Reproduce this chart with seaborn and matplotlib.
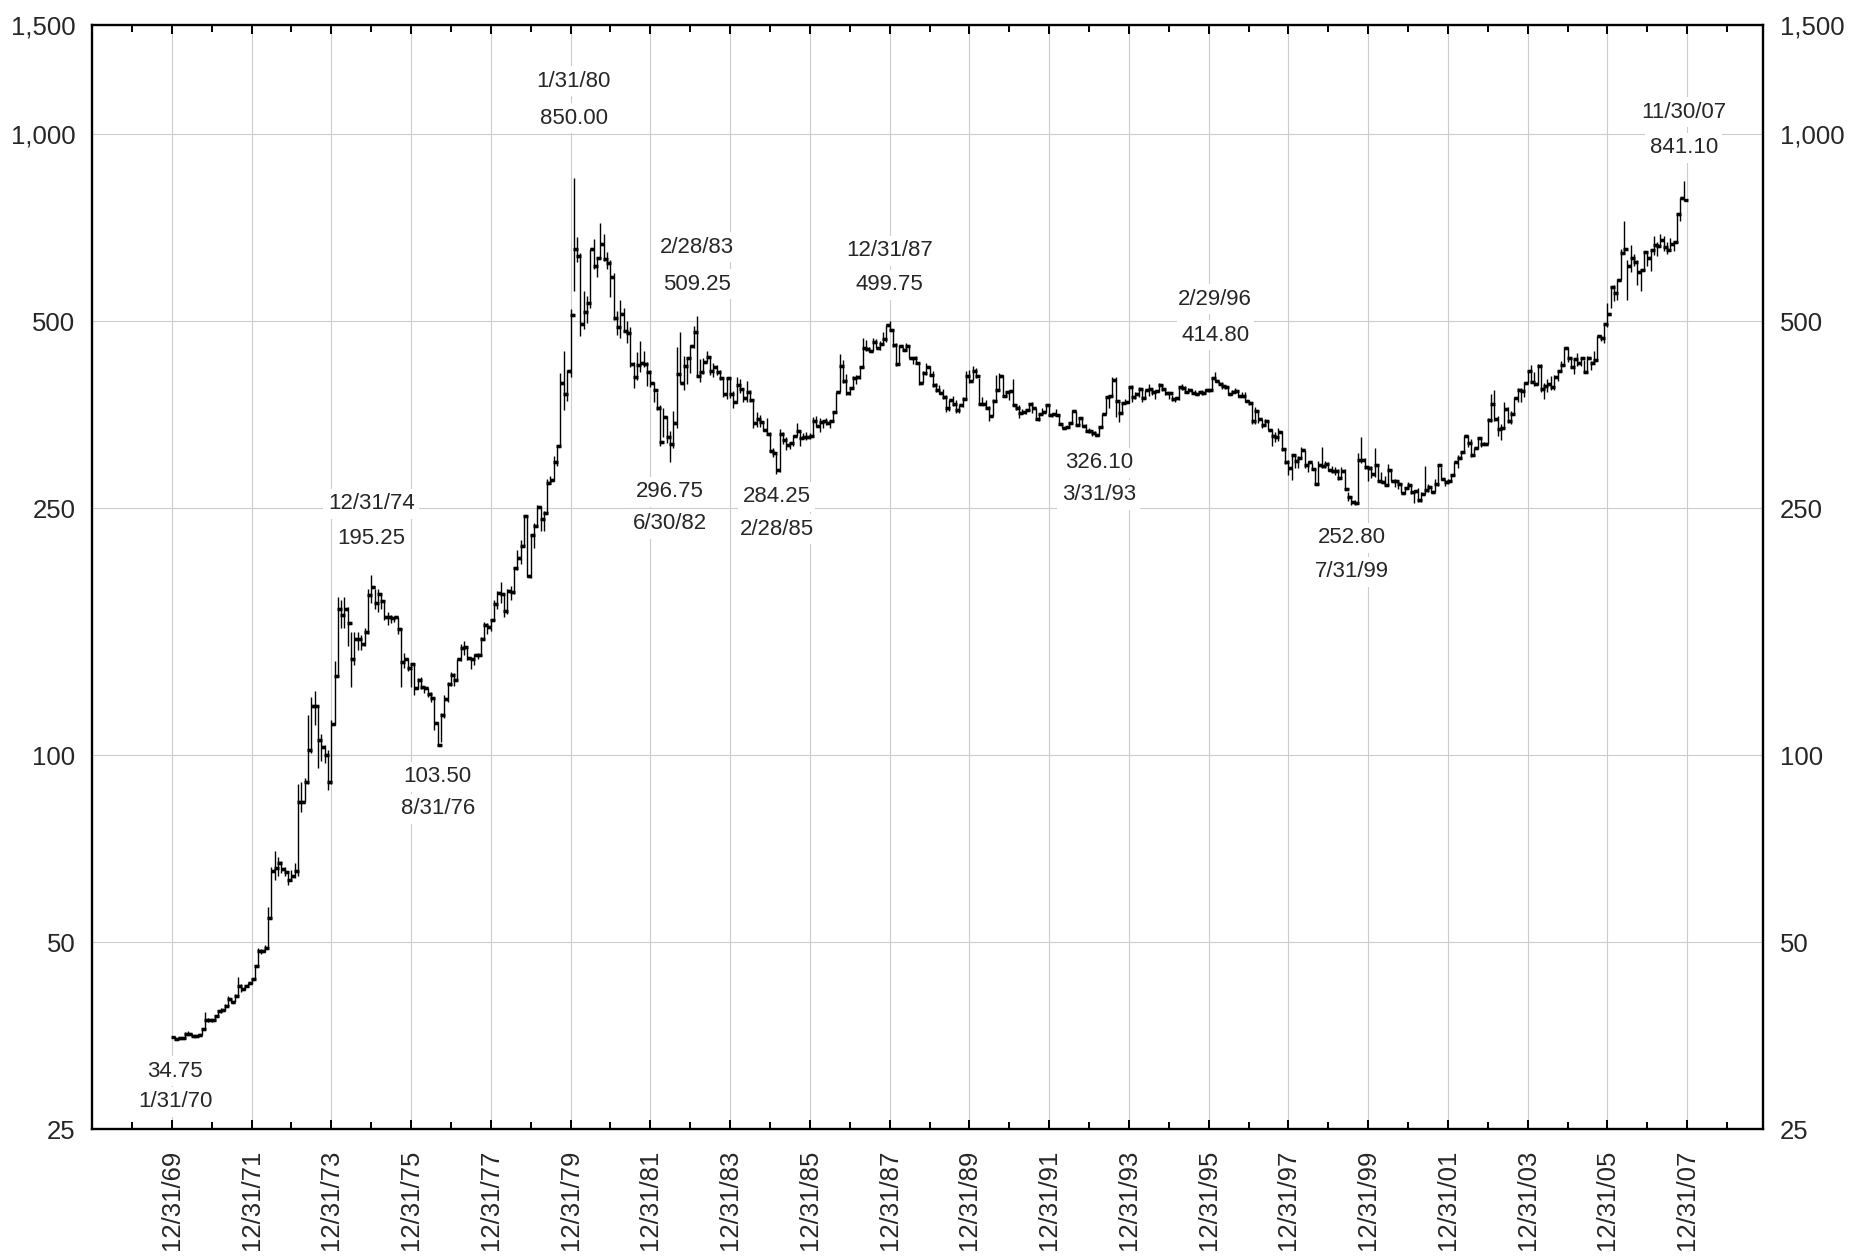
import numpy as np
import pandas as pd
import matplotlib
matplotlib.use("Agg")
import matplotlib.pyplot as plt
import matplotlib.dates as mdates
from matplotlib.ticker import FixedLocator, FuncFormatter, NullLocator
import seaborn as sns

# Monthly gold bars, Jan 1970 - Nov 2007
first_open = 35.20

closes = [
    34.94, 35.00, 35.10, 35.60, 35.50, 35.30, 35.30, 35.40, 36.20, 37.50, 37.40, 37.40,  # 1970
    38.00, 38.80, 38.90, 39.50, 40.50, 40.10, 41.00, 42.50, 42.00, 42.50, 42.90, 43.60,  # 1971
    45.75, 48.30, 48.30, 49.00, 54.60, 65.10, 65.70, 67.00, 65.50, 64.90, 62.90, 63.90,  # 1972
    65.10, 84.00, 84.00, 90.50, 102.0, 120.0, 120.0, 106.0, 103.0, 100.0, 90.50, 112.25,  # 1973
    134.0, 172.0, 168.0, 172.0, 163.0, 143.0, 154.0, 154.0, 151.0, 158.0, 181.0, 186.5,  # 1974
    175.8, 181.75, 177.25, 167.0, 167.0, 166.25, 166.7, 159.8, 141.3, 142.9, 138.15, 140.25,  # 1975
    128.15, 132.3, 128.75, 128.4, 125.5, 123.8, 112.5, 104.0, 116.0, 123.15, 130.25, 134.5,  # 1976
    132.3, 142.75, 148.9, 149.2, 143.5, 143.0, 145.25, 145.0, 154.05, 161.85, 160.95, 164.95,  # 1977
    175.3, 182.25, 181.6, 170.85, 184.15, 183.05, 200.25, 208.1, 217.1, 242.6, 194.2, 226.0,  # 1978
    233.7, 251.3, 240.1, 245.3, 274.6, 277.5, 296.45, 315.1, 397.25, 382.0, 415.65, 512.0,  # 1979
    653.0, 637.0, 494.5, 518.0, 535.5, 653.5, 614.25, 631.25, 666.75, 629.0, 619.75, 589.75,  # 1980
    506.5, 489.0, 513.75, 482.75, 479.25, 426.0, 406.0, 425.5, 428.75, 427.0, 414.5, 397.5,  # 1981
    387.0, 362.6, 320.0, 350.25, 325.5, 317.5, 342.75, 411.5, 397.0, 423.25, 436.0, 456.9,  # 1982
    481.0, 408.5, 414.75, 429.25, 437.5, 416.0, 422.0, 414.25, 405.0, 382.0, 405.0, 381.5,  # 1983
    370.5, 394.25, 388.5, 375.8, 384.25, 373.15, 342.4, 348.25, 343.75, 333.5, 329.0, 309.0,  # 1984
    306.65, 287.75, 329.25, 321.4, 316.4, 317.75, 327.0, 333.25, 324.0, 325.1, 325.3, 326.8,  # 1985
    345.5, 339.3, 344.0, 345.75, 343.2, 345.5, 357.5, 384.7, 423.2, 401.0, 383.5, 390.9,  # 1986
    405.5, 405.9, 421.5, 453.3, 451.0, 447.3, 462.5, 453.4, 459.5, 468.8, 492.5, 484.1,  # 1987
    458.0, 426.15, 456.95, 449.0, 455.5, 436.55, 436.8, 427.75, 397.7, 412.4, 422.6, 410.15,  # 1988
    394.0, 387.0, 383.2, 377.6, 361.8, 373.0, 368.3, 359.8, 366.5, 375.3, 408.15, 401.0,  # 1989
    415.05, 407.7, 368.5, 367.75, 363.05, 352.2, 372.3, 387.75, 408.35, 379.5, 384.85, 386.2,  # 1990
    366.0, 362.7, 355.65, 357.75, 360.4, 368.4, 362.95, 347.4, 354.9, 357.45, 366.3, 353.15,  # 1991
    354.1, 353.15, 341.7, 336.4, 337.5, 343.4, 357.8, 340.0, 349.0, 339.25, 333.25, 333.0,  # 1992
    330.45, 327.6, 337.8, 354.3, 377.45, 378.5, 401.8, 371.6, 355.5, 369.6, 370.9, 391.75,  # 1993
    377.9, 381.6, 389.2, 376.45, 387.6, 388.25, 384.0, 385.75, 394.85, 389.1, 383.1, 383.25,  # 1994
    374.9, 376.4, 392.0, 389.75, 385.3, 387.05, 383.35, 382.35, 383.95, 382.65, 387.8, 387.0,  # 1995
    405.55, 400.65, 396.35, 392.85, 391.25, 382.0, 385.3, 386.45, 379.0, 379.5, 371.3, 369.25,  # 1996
    345.5, 358.6, 348.2, 340.15, 345.6, 334.6, 326.4, 325.4, 332.1, 311.4, 296.8, 290.2,  # 1997
    304.85, 297.4, 301.0, 310.7, 293.6, 296.3, 288.9, 273.4, 293.85, 292.3, 294.7, 287.8,  # 1998
    287.1, 287.05, 279.45, 286.6, 268.6, 261.0, 255.6, 254.8, 299.0, 299.1, 291.35, 290.25,  # 1999
    283.3, 293.65, 276.75, 275.1, 272.25, 288.15, 276.75, 277.0, 273.65, 264.5, 269.1, 272.65,  # 2000
    265.6, 266.7, 257.7, 263.15, 267.5, 270.6, 265.9, 273.0, 293.1, 278.75, 275.5, 276.5,  # 2001
    282.3, 296.85, 301.4, 308.2, 326.6, 318.5, 304.65, 312.8, 323.7, 316.9, 317.05, 347.2,  # 2002
    367.5, 347.45, 334.85, 336.75, 361.4, 346.0, 354.75, 375.6, 388.0, 386.25, 398.35, 416.25,  # 2003
    399.75, 395.85, 423.7, 388.5, 393.25, 395.8, 391.4, 407.25, 415.65, 425.55, 453.4, 435.6,  # 2004
    422.15, 435.45, 427.5, 435.7, 414.45, 437.1, 429.0, 433.25, 473.25, 470.75, 495.65, 513.0,  # 2005
    568.75, 556.0, 582.0, 644.0, 653.0, 613.5, 632.5, 623.5, 599.25, 603.75, 646.7, 632.0,  # 2006
    650.5, 664.2, 661.75, 677.0, 659.1, 650.5, 665.5, 672.0, 743.0, 789.5, 783.5,  # 2007
]

highs = [
    35.30, 35.10, 35.20, 35.80, 35.90, 35.60, 35.40, 35.50, 36.40, 38.60, 37.70, 37.60,  # 1970
    38.20, 38.90, 39.10, 39.70, 41.00, 40.70, 41.20, 43.90, 42.80, 42.70, 43.00, 43.70,  # 1971
    46.00, 49.00, 48.70, 49.50, 57.00, 66.00, 70.00, 68.50, 67.50, 66.00, 65.00, 65.30,  # 1972
    67.0, 90.0, 90.5, 92.0, 116.0, 124.0, 127.0, 120.0, 108.0, 104.0, 102.0, 114.0,  # 1973
    142.0, 180.0, 178.0, 179.5, 173.0, 158.0, 158.0, 158.0, 156.0, 160.0, 185.0, 195.25,  # 1974
    185.0, 185.0, 181.0, 178.0, 170.0, 168.0, 167.0, 167.0, 160.0, 146.0, 143.5, 141.0,  # 1975
    140.5, 133.0, 133.5, 129.0, 128.5, 126.3, 124.3, 113.0, 117.0, 125.0, 131.0, 136.0,  # 1976
    135.75, 143.0, 151.0, 153.0, 149.5, 143.5, 145.5, 146.0, 155.0, 164.0, 163.0, 165.5,  # 1977
    178.0, 184.0, 190.0, 181.0, 185.0, 187.0, 201.0, 214.0, 222.0, 243.65, 243.0, 227.0,  # 1978
    237.0, 253.0, 252.0, 247.0, 279.0, 282.0, 303.0, 315.1, 412.0, 447.0, 417.0, 524.0,  # 1979
    850.0, 683.0, 644.0, 560.0, 550.0, 653.5, 678.0, 635.0, 720.0, 690.0, 646.0, 627.0,  # 1980
    599.0, 520.0, 540.0, 525.0, 500.0, 489.0, 430.0, 446.0, 465.0, 448.0, 430.0, 417.0,  # 1981
    399.0, 385.0, 366.0, 362.0, 352.0, 333.0, 359.0, 455.0, 481.0, 440.0, 438.0, 457.0,  # 1982
    492.0, 509.25, 434.0, 436.0, 447.0, 439.0, 428.0, 425.0, 418.0, 403.0, 407.0, 407.0,  # 1983
    386.0, 406.0, 404.0, 388.0, 400.0, 387.0, 373.0, 357.0, 353.0, 345.0, 349.0, 331.0,  # 1984
    312.0, 306.0, 335.0, 331.0, 325.0, 320.0, 328.0, 343.0, 333.0, 330.0, 331.0, 330.0,  # 1985
    350.0, 352.0, 349.0, 346.0, 349.0, 347.0, 358.0, 385.0, 442.0, 433.0, 411.0, 392.0,  # 1986
    408.0, 409.0, 421.5, 470.0, 466.0, 454.0, 470.0, 468.0, 465.0, 481.0, 494.0, 499.75,  # 1987
    486.0, 461.0, 457.0, 455.0, 461.0, 458.0, 438.0, 439.0, 428.0, 415.0, 429.0, 423.0,  # 1988
    415.0, 397.0, 395.0, 389.0, 381.0, 374.0, 379.0, 373.0, 367.0, 378.0, 416.0, 418.0,  # 1989
    423.0, 420.0, 405.0, 378.0, 373.0, 365.0, 375.0, 410.0, 413.0, 409.0, 385.0, 388.0,  # 1990
    403.0, 368.0, 366.0, 361.0, 361.0, 369.0, 371.0, 363.0, 355.0, 362.0, 367.0, 368.0,  # 1991
    356.0, 361.0, 354.0, 342.0, 338.0, 344.0, 360.0, 358.0, 350.0, 349.0, 341.0, 337.0,  # 1992
    333.0, 333.0, 338.0, 355.0, 377.5, 378.5, 406.7, 406.0, 372.0, 371.0, 375.0, 391.75,  # 1993
    394.0, 385.0, 392.0, 389.0, 388.0, 396.0, 387.0, 388.0, 397.0, 396.0, 389.0, 383.5,  # 1994
    380.0, 377.0, 392.0, 396.0, 393.0, 390.0, 389.0, 387.0, 386.0, 387.0, 389.0, 389.0,  # 1995
    406.0, 414.8, 401.0, 399.0, 394.0, 391.0, 387.0, 390.0, 387.0, 385.0, 384.0, 373.0,  # 1996
    368.0, 364.0, 359.0, 348.0, 348.0, 346.0, 335.0, 332.0, 336.0, 333.0, 313.0, 299.0,  # 1997
    306.0, 305.0, 303.0, 314.0, 310.0, 298.0, 296.0, 288.0, 298.0, 314.0, 298.0, 297.0,  # 1998
    292.0, 291.0, 289.0, 291.0, 289.0, 265.0, 261.0, 258.0, 307.0, 326.0, 301.0, 291.0,  # 1999
    292.0, 313.0, 295.0, 286.0, 282.0, 294.0, 289.0, 279.0, 277.0, 274.0, 270.0, 275.0,  # 2000
    272.0, 267.0, 269.0, 265.0, 292.0, 273.0, 270.0, 279.0, 293.1, 291.0, 278.0, 279.0,  # 2001
    284.0, 297.0, 304.0, 309.0, 327.0, 328.0, 323.0, 313.0, 326.0, 323.0, 320.0, 349.0,  # 2002
    382.0, 388.0, 352.0, 341.0, 371.0, 364.0, 359.0, 377.0, 390.0, 391.0, 399.0, 416.25,  # 2003
    425.0, 414.0, 427.0, 427.0, 398.0, 404.0, 408.0, 409.0, 415.65, 432.0, 455.0, 455.0,  # 2004
    438.0, 435.45, 445.0, 436.0, 433.0, 440.0, 432.0, 447.0, 473.25, 476.0, 495.65, 536.0,  # 2005
    569.0, 572.0, 584.0, 654.5, 725.0, 628.0, 663.0, 641.0, 627.0, 608.0, 647.0, 648.0,  # 2006
    652.0, 685.0, 670.0, 691.0, 685.0, 672.0, 680.0, 673.0, 743.0, 789.5, 841.1,  # 2007
]

lows = [
    34.75, 34.80, 35.00, 35.10, 35.40, 35.20, 35.20, 35.20, 35.40, 36.20, 37.20, 37.20,  # 1970
    37.30, 37.90, 38.40, 38.80, 39.40, 39.90, 40.00, 40.90, 41.60, 41.90, 42.30, 42.80,  # 1971
    43.60, 45.60, 47.80, 48.20, 48.90, 54.50, 63.00, 64.00, 64.50, 63.80, 61.80, 62.80,  # 1972
    63.5, 64.0, 81.0, 84.0, 90.0, 101.0, 112.0, 95.5, 98.0, 97.0, 88.0, 90.0,  # 1973
    112.0, 134.0, 160.0, 160.0, 150.0, 129.0, 140.0, 148.0, 148.0, 150.0, 157.0, 176.0,  # 1974
    172.0, 170.0, 172.0, 165.0, 162.0, 163.0, 164.0, 157.0, 129.0, 138.0, 136.5, 128.75,  # 1975
    125.0, 127.75, 128.0, 126.0, 124.0, 122.0, 110.0, 103.5, 105.0, 115.0, 122.0, 129.5,  # 1976
    129.5, 132.0, 142.0, 145.0, 142.5, 137.5, 139.5, 143.0, 145.0, 153.5, 157.0, 158.5,  # 1977
    165.0, 172.0, 176.0, 167.0, 169.0, 178.0, 182.0, 199.0, 203.0, 217.0, 193.4, 193.0,  # 1978
    216.0, 233.0, 230.0, 230.0, 245.0, 273.0, 277.0, 292.0, 315.0, 360.0, 372.0, 407.0,  # 1979
    559.0, 624.0, 474.0, 485.0, 497.0, 525.0, 608.0, 590.0, 629.0, 625.0, 607.0, 548.0,  # 1980
    503.0, 476.0, 470.0, 480.0, 461.0, 422.0, 391.0, 402.0, 414.0, 422.0, 393.0, 392.0,  # 1981
    371.0, 360.0, 315.0, 325.0, 318.0, 296.75, 312.0, 337.0, 397.0, 387.0, 396.0, 412.0,  # 1982
    452.0, 408.0, 399.0, 411.0, 430.0, 410.0, 406.0, 409.0, 402.0, 378.0, 375.0, 376.0,  # 1983
    363.0, 369.0, 383.0, 370.0, 370.0, 370.0, 337.0, 338.0, 338.0, 333.0, 329.0, 307.5,  # 1984
    302.0, 284.25, 286.0, 317.0, 310.0, 311.0, 315.0, 327.0, 315.0, 323.0, 322.0, 323.0,  # 1985
    325.0, 338.0, 331.0, 337.0, 340.0, 337.0, 345.0, 358.0, 384.0, 398.0, 381.0, 381.0,  # 1986
    390.0, 396.0, 404.0, 421.0, 448.0, 446.0, 447.0, 452.0, 450.0, 458.0, 463.0, 482.0,  # 1987
    455.0, 423.0, 426.0, 447.0, 448.0, 436.0, 426.0, 427.0, 395.0, 397.0, 410.0, 409.0,  # 1988
    392.0, 384.0, 382.0, 375.0, 357.0, 358.0, 365.0, 356.0, 356.0, 364.0, 375.0, 397.0,  # 1989
    402.0, 405.0, 368.0, 366.0, 362.0, 345.0, 352.0, 370.0, 388.0, 377.0, 378.0, 373.0,  # 1990
    366.0, 360.0, 349.0, 355.0, 355.0, 359.0, 356.0, 347.0, 346.0, 354.0, 357.0, 352.0,  # 1991
    350.0, 352.0, 340.0, 336.0, 335.0, 336.0, 343.0, 340.0, 340.0, 338.0, 331.0, 330.0,  # 1992
    327.0, 326.5, 326.1, 336.0, 355.0, 362.0, 377.0, 350.0, 344.0, 356.0, 368.0, 369.0,  # 1993
    370.0, 375.0, 377.0, 370.0, 375.0, 379.0, 380.0, 375.0, 385.0, 386.0, 381.0, 375.0,  # 1994
    372.0, 371.0, 374.0, 388.0, 383.0, 383.0, 383.0, 381.0, 382.0, 381.0, 383.0, 384.0,  # 1995
    387.0, 399.0, 394.0, 389.0, 389.0, 381.0, 380.0, 385.0, 378.0, 377.0, 370.0, 367.0,  # 1996
    341.0, 341.0, 343.0, 337.0, 339.0, 334.0, 315.0, 319.0, 321.0, 309.0, 294.0, 283.0,  # 1997
    278.0, 290.0, 290.0, 301.0, 290.0, 286.0, 288.0, 273.0, 273.0, 290.0, 290.0, 287.0,  # 1998
    285.0, 283.0, 278.0, 280.0, 268.0, 257.0, 252.8, 253.0, 255.0, 296.0, 289.0, 276.0,  # 1999
    280.0, 281.0, 276.0, 274.0, 271.0, 273.0, 276.0, 270.0, 268.0, 264.0, 263.0, 268.0,  # 2000
    263.0, 255.0, 256.0, 256.0, 263.0, 265.0, 264.0, 265.0, 271.0, 278.0, 271.0, 273.0,  # 2001
    277.0, 283.0, 290.0, 300.0, 308.0, 314.0, 302.0, 303.0, 311.0, 314.0, 316.0, 317.0,  # 2002
    344.0, 345.0, 327.0, 322.0, 337.0, 343.0, 342.0, 354.0, 370.0, 370.0, 378.0, 397.0,  # 2003
    397.0, 393.0, 395.0, 384.0, 375.0, 385.0, 388.0, 387.0, 401.0, 415.0, 423.0, 430.0,  # 2004
    420.0, 411.0, 424.0, 423.0, 414.0, 415.0, 418.0, 430.0, 433.0, 464.0, 461.0, 490.0,  # 2005
    525.0, 538.0, 540.0, 582.0, 641.0, 542.0, 600.0, 613.0, 573.0, 560.0, 603.0, 614.0,  # 2006
    603.0, 640.0, 636.0, 664.0, 650.0, 642.0, 650.0, 649.0, 672.0, 726.0, 782.0,  # 2007
]

# annotations: month-end date, first line, second line and where each line sits (price units)
label_dates = ["1970-01-31", "1974-12-31", "1976-08-31", "1980-01-31", "1982-06-30", "1983-02-28",
               "1985-02-28", "1987-12-31", "1993-03-31", "1996-02-29", "1999-07-31", "2007-11-30"]
label_line1 = ["34.75", "12/31/74", "103.50", "1/31/80", "296.75", "2/28/83",
               "284.25", "12/31/87", "326.10", "2/29/96", "252.80", "11/30/07"]
label_line2 = ["1/31/70", "195.25", "8/31/76", "850.00", "6/30/82", "509.25",
               "2/28/85", "499.75", "3/31/93", "414.80", "7/31/99", "841.10"]
label_y1 = [31.0, 254, 92.3, 1218, 265.5, 658, 260.6, 649, 295.6, 543, 223.9, 1086]
label_y2 = [27.65, 223, 82.0, 1062, 235.8, 574, 231.4, 572, 262.6, 475, 197.4, 951]

y_ticks = [25, 50, 100, 250, 500, 1000, 1500]

df = pd.DataFrame({
    "date": pd.date_range("1970-01-31", periods=len(closes), freq="ME"),
    "high": highs,
    "low": lows,
    "close": closes,
})
df["open"] = df["close"].shift(1).fillna(first_open)

sns.set_style("white")
plt.rcParams["font.family"] = ["Liberation Sans", "DejaVu Sans"]

fig = plt.figure(figsize=(18.66, 12.57), dpi=100)
ax = fig.add_axes([0.0493, 0.1018, 0.8955, 0.8783])

# high-low range
ax.vlines(df["date"], df["low"], df["high"], color="black", linewidth=1.0, zorder=3)
# open tick on the left, close tick on the right
sns.scatterplot(x=df["date"], y=df["open"], marker=0, s=10, color="black",
                linewidth=2.4, ax=ax, zorder=3, legend=False)
sns.scatterplot(x=df["date"], y=df["close"], marker=1, s=10, color="black",
                linewidth=2.4, ax=ax, zorder=3, legend=False)

ax.set_yscale("log")
ax.set_ylim(25, 1500)
ax.yaxis.set_major_locator(FixedLocator(y_ticks))
ax.yaxis.set_minor_locator(NullLocator())
ax.yaxis.set_major_formatter(FuncFormatter(lambda v, p: f"{v:,.0f}"))

ax.set_xlim(pd.Timestamp("1967-12-31"), pd.Timestamp("2009-11-25"))
major_ticks = [pd.Timestamp(f"{y}-12-31") for y in range(1969, 2008, 2)]
minor_ticks = [pd.Timestamp(f"{y}-12-31") for y in range(1968, 2009)]
ax.xaxis.set_major_locator(FixedLocator(mdates.date2num(major_ticks)))
ax.xaxis.set_minor_locator(FixedLocator(mdates.date2num(minor_ticks)))
ax.xaxis.set_major_formatter(mdates.DateFormatter("%m/%d/%y"))

ax.tick_params(axis="x", which="both", direction="in", top=True, bottom=True,
               width=1.45, color="black")
ax.tick_params(axis="x", which="major", length=6.5, pad=15, labelsize=18.5,
               labelrotation=90)
ax.tick_params(axis="x", which="minor", length=5)
ax.tick_params(axis="y", which="both", length=0, labelleft=True, labelright=True,
               pad=12, labelsize=18.5)

ax.grid(True, which="major", axis="both", color="#cccccc", linewidth=0.8)
ax.set_axisbelow(True)
for s in ax.spines.values():
    s.set_linewidth(1.7)
    s.set_color("black")
ax.set_xlabel("")
ax.set_ylabel("")

for d, t1, t2, y1, y2 in zip(label_dates, label_line1, label_line2, label_y1, label_y2):
    x = mdates.date2num(pd.Timestamp(d))
    for t, y in ((t1, y1), (t2, y2)):
        ax.text(x, y, t, ha="center", va="center", fontsize=16, zorder=4,
                bbox=dict(boxstyle="square,pad=0.2", fc="white", ec="none"))

fig.savefig("out.png", dpi=100)
